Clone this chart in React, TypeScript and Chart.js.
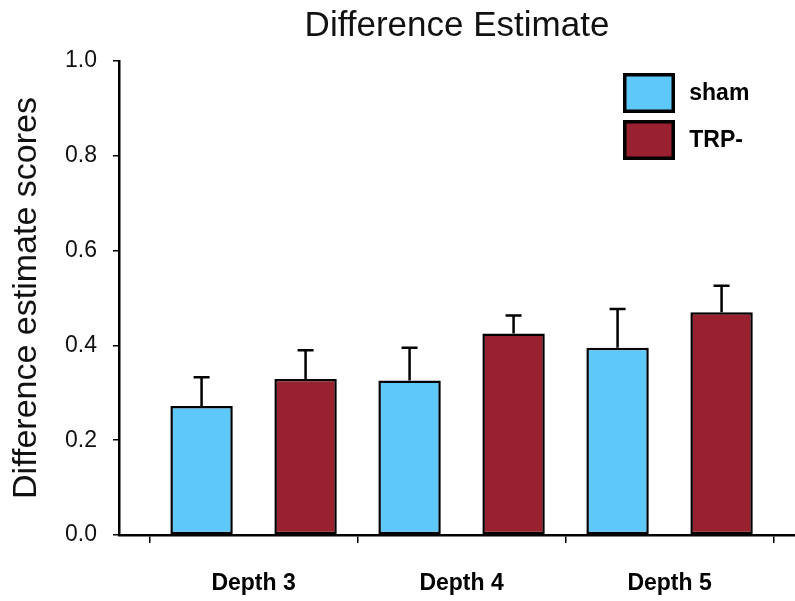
import React, { useEffect, useRef } from "react";
import { Chart, registerables } from "chart.js";

Chart.register(...registerables);

const GROUPS = ["Depth 3", "Depth 4", "Depth 5"];
const SERIES_NAMES = ["sham", "TRP-"];
const SHAM = [0.272, 0.326, 0.395];
const SHAM_ERR = [0.061, 0.069, 0.082];
const TRP = [0.329, 0.425, 0.47];
const TRP_ERR = [0.061, 0.038, 0.056];
const Y_TICKS = [0, 0.2, 0.4, 0.6, 0.8, 1.0];
const COLORS = ["#5EC9F9", "#98202F"];
const TITLE = "Difference Estimate";
const Y_TITLE = "Difference estimate scores";

const FONT = "'Liberation Sans', Arial, sans-serif";

// x-range in group units (group i centred at i)
const X_MIN = -0.647;
const X_MAX = 2.603;

const errorBarPlugin = {
  id: "errorBars",
  afterDatasetsDraw(chart: any) {
    const { ctx } = chart;
    const yScale = chart.scales.y;
    chart.data.datasets.forEach((ds: any, di: number) => {
      const meta = chart.getDatasetMeta(di);
      meta.data.forEach((el: any, i: number) => {
        const v = ds.data[i].y;
        const e = ds.errors[i];
        const yTop = yScale.getPixelForValue(v + e);
        const yBar = yScale.getPixelForValue(v);
        ctx.save();
        ctx.strokeStyle = "#000";
        ctx.lineWidth = 2.5;
        ctx.beginPath();
        ctx.moveTo(el.x, yBar);
        ctx.lineTo(el.x, yTop);
        ctx.moveTo(el.x - 8, yTop);
        ctx.lineTo(el.x + 8, yTop);
        ctx.stroke();
        ctx.restore();
      });
    });
  },
};

const boxLegendPlugin = {
  id: "boxLegend",
  afterDraw(chart: any) {
    const { ctx } = chart;
    const o = chart.options.plugins.boxLegend;
    chart.data.datasets.forEach((ds: any, i: number) => {
      const x = o.x;
      const y = o.y + i * o.step;
      ctx.save();
      ctx.fillStyle = ds.backgroundColor;
      ctx.fillRect(x, y, o.w, o.h);
      ctx.lineWidth = o.lw;
      ctx.strokeStyle = "#000";
      ctx.strokeRect(x, y, o.w, o.h);
      ctx.fillStyle = "#000";
      ctx.font = `bold ${o.fontSize}px ${FONT}`;
      ctx.textBaseline = "middle";
      ctx.textAlign = "left";
      ctx.fillText(ds.label, x + o.w + o.gap, y + o.h / 2 + 1);
      ctx.restore();
    });
  },
};

export default function App() {
  const ref = useRef<HTMLCanvasElement | null>(null);

  useEffect(() => {
    if (!ref.current) return;
    const chart = new Chart(ref.current, {
      type: "bar",
      data: {
        datasets: [
          {
            label: SERIES_NAMES[0],
            data: GROUPS.map((_, i) => ({ x: i, y: SHAM[i] })),
            errors: SHAM_ERR,
            backgroundColor: COLORS[0],
            borderColor: "#000",
            borderWidth: 2.5,
            borderSkipped: false,
          } as any,
          {
            label: SERIES_NAMES[1],
            data: GROUPS.map((_, i) => ({ x: i, y: TRP[i] })),
            errors: TRP_ERR,
            backgroundColor: COLORS[1],
            borderColor: "#000",
            borderWidth: 2.5,
            borderSkipped: false,
          } as any,
        ],
      },
      options: {
        animation: false,
        responsive: true,
        maintainAspectRatio: false,
        layout: { padding: { left: 0, right: 0, top: 0, bottom: 0 } },
        datasets: {
          bar: { categoryPercentage: 1.0, barPercentage: 0.6 },
        } as any,
        plugins: {
          legend: { display: false },
          tooltip: { enabled: false },
          title: {
            display: true,
            fullSize: false,
            text: TITLE,
            color: "#111",
            font: { family: FONT, size: 35, weight: "normal" },
            padding: { top: 5, bottom: 14 },
          },
          boxLegend: {
            x: 624.75,
            y: 74.75,
            w: 48.5,
            h: 36.5,
            step: 47,
            lw: 3.5,
            gap: 16,
            fontSize: 23,
          },
        } as any,
        scales: {
          x: {
            type: "linear",
            min: X_MIN,
            max: X_MAX,
            offset: false,
            weight: 0,
            afterBuildTicks: (axis: any) => {
              axis.ticks = GROUPS.concat([""]).map((_, i) => ({ value: i - 0.5 }));
            },
            ticks: { display: false },
            grid: {
              display: true,
              offset: false,
              drawOnChartArea: false,
              drawTicks: true,
              tickLength: 8,
              color: "#000",
              tickColor: "#000",
              lineWidth: 1.5,
            },
            border: { display: true, color: "#000", width: 2.5 },
          },
          x2: {
            type: "linear",
            position: "bottom",
            min: X_MIN,
            max: X_MAX,
            offset: false,
            weight: 1,
            afterBuildTicks: (axis: any) => {
              axis.ticks = GROUPS.map((_, i) => ({ value: i }));
            },
            afterFit: (axis: any) => {
              axis.height = 58;
            },
            ticks: {
              autoSkip: false,
              maxRotation: 0,
              padding: 27,
              color: "#000",
              font: { family: FONT, size: 23, weight: "bold" },
              callback: (v: any) => GROUPS[Math.round(Number(v))] ?? "",
            },
            grid: { display: false, drawTicks: false, offset: false },
            border: { display: false },
          },
          y: {
            min: 0,
            max: 1,
            afterBuildTicks: (axis: any) => {
              axis.ticks = Y_TICKS.map((v) => ({ value: v }));
            },
            afterFit: (axis: any) => {
              axis.width = 119;
            },
            ticks: {
              padding: 16,
              color: "#111",
              font: { family: FONT, size: 23 },
              callback: (v: any) => Number(v).toFixed(1),
            },
            grid: {
              display: true,
              drawOnChartArea: false,
              drawTicks: true,
              tickLength: 6,
              color: "#000",
              tickColor: "#000",
              lineWidth: 1.5,
            },
            border: { display: true, color: "#000", width: 2.5 },
            title: {
              display: true,
              text: Y_TITLE,
              color: "#111",
              font: { family: FONT, size: 34, weight: "normal" },
              padding: { top: 6, bottom: 0 },
            },
          },
        },
      },
      plugins: [errorBarPlugin, boxLegendPlugin],
    } as any);
    return () => chart.destroy();
  }, []);

  return (
    <div
      style={{
        position: "absolute",
        left: 0,
        top: 0,
        width: "795px",
        height: "601px",
        background: "#fff",
      }}
    >
      <canvas ref={ref} />
    </div>
  );
}
